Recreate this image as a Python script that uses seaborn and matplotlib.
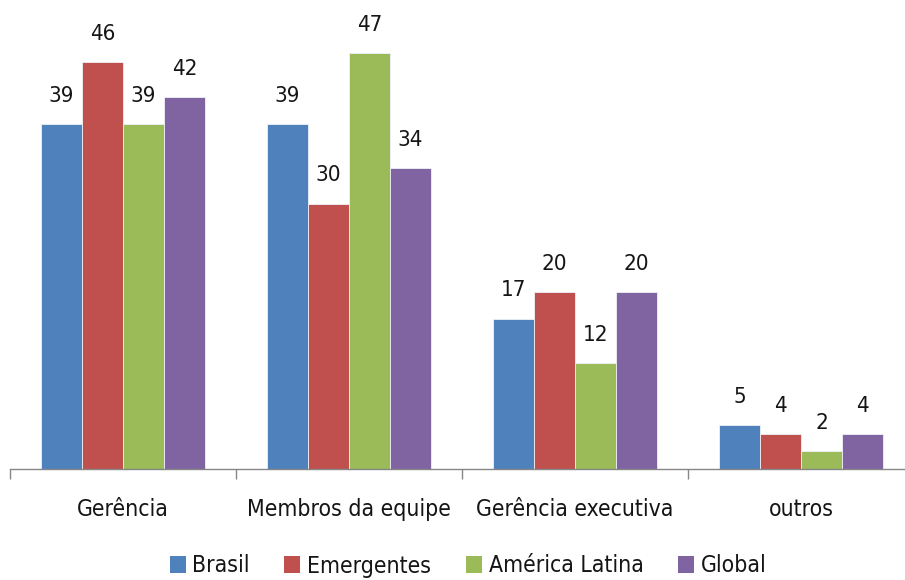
import matplotlib
matplotlib.use("Agg")
import matplotlib.pyplot as plt
import seaborn as sns
import pandas as pd
from matplotlib.ticker import FixedLocator

categories = ["Gerência", "Membros da equipe", "Gerência executiva", "outros"]
series = ["Brasil", "Emergentes", "América Latina", "Global"]
brasil = [39, 39, 17, 5]
emergentes = [46, 30, 20, 4]
america_latina = [39, 47, 12, 2]
global_ = [42, 34, 20, 4]
colors = ["#4F81BD", "#C0504D", "#9BBB59", "#8064A2"]

rows = []
for name, vals in zip(series, [brasil, emergentes, america_latina, global_]):
    for cat, v in zip(categories, vals):
        rows.append({"categoria": cat, "serie": name, "valor": v})
df = pd.DataFrame(rows)

sns.set_theme(style="white")
plt.rcParams["font.family"] = ["DejaVu Sans"]
plt.rcParams["font.stretch"] = "condensed"

fig = plt.figure(figsize=(9.05, 5.8), dpi=100)
ax = fig.add_axes([10 / 905, 111 / 580, 904 / 905, 442.5 / 580])

sns.barplot(data=df, x="categoria", y="valor", hue="serie", order=categories,
            hue_order=series, palette=colors, width=0.726, gap=0,
            edgecolor="#eef2f8", linewidth=0.6, saturation=1, ax=ax, legend=False)

for cont in ax.containers:
    ax.bar_label(cont, labels=[f"{int(b.get_height())}" for b in cont],
                 padding=13, fontsize=16, color="#151515")

ax.set_ylim(0, 50)
ax.set_xlim(-0.5, 3.5)
ax.set_xlabel("")
ax.set_ylabel("")
ax.set_yticks([])
for s in ["top", "right", "left"]:
    ax.spines[s].set_visible(False)
ax.spines["bottom"].set_color("#868686")
ax.spines["bottom"].set_linewidth(1.0)

ax.xaxis.set_minor_locator(FixedLocator([-0.5, 0.5, 1.5, 2.5, 3.5]))
ax.tick_params(axis="x", which="major", bottom=True, length=0, pad=21,
               labelsize=16.5, labelcolor="#151515")
ax.tick_params(axis="x", which="minor", bottom=True, length=7.5, width=1.0,
               color="#868686", direction="out")

handles = [plt.Rectangle((0, 0), 1, 1, facecolor=c, edgecolor="none") for c in colors]
fig.legend(handles, series, loc="center", bbox_to_anchor=(468 / 905, 14 / 580), ncol=4,
           frameon=False, fontsize=16.5, handlelength=0.7, handleheight=0.7,
           handletextpad=0.3, columnspacing=1.5, labelcolor="#151515")

fig.savefig("out.png", dpi=100)
